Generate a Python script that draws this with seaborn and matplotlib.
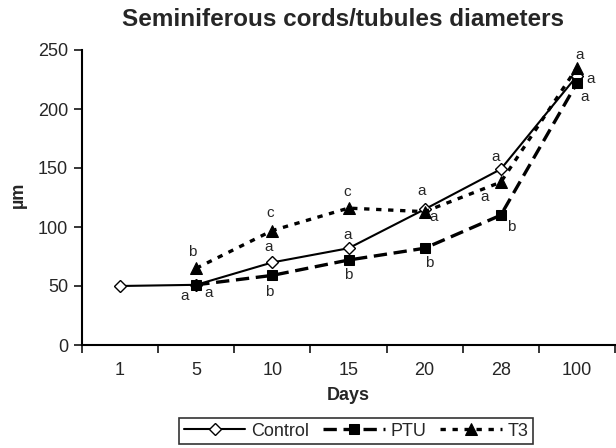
import numpy as np
import pandas as pd
import matplotlib
matplotlib.use("Agg")
import matplotlib.pyplot as plt
import seaborn as sns

# ---- data ----
days = ["1", "5", "10", "15", "20", "28", "100"]
control = [50, 51, 70, 82, 115, 149, 228]
ptu = [np.nan, 51, 59, 72, 82, 110, 222]
t3 = [np.nan, 65, 97, 116, 113, 138, 235]

control_letters = ["", "a", "a", "a", "a", "a", "a"]
ptu_letters = ["", "a", "b", "b", "b", "b", "a"]
t3_letters = ["", "b", "c", "c", "a", "a", "a"]

title = "Seminiferous cords/tubules diameters"
xlabel = "Days"
ylabel = "µm"
yticks = [0, 50, 100, 150, 200, 250]

# ---- style ----
sns.set_style("ticks")
plt.rcParams["font.family"] = ["Liberation Sans", "DejaVu Sans"]

fig = plt.figure(figsize=(6.16, 4.48), dpi=100)
ax = fig.add_axes([82 / 616, 1 - 345 / 448, 533 / 616, 295 / 448])

pos = np.arange(len(days))

def frame(vals):
    df = pd.DataFrame({"pos": pos, "val": vals})
    return df.dropna()

sns.lineplot(data=frame(control), x="pos", y="val", ax=ax, color="black",
             lw=1.5, marker="D", markersize=6, markerfacecolor="white",
             markeredgecolor="black", markeredgewidth=1.0, label="Control")
sns.lineplot(data=frame(ptu), x="pos", y="val", ax=ax, color="black",
             lw=2.4, linestyle=(0, (4.0, 2.0)), marker="s", markersize=6.5,
             markerfacecolor="black", markeredgecolor="black", label="PTU")
sns.lineplot(data=frame(t3), x="pos", y="val", ax=ax, color="black",
             lw=2.4, linestyle=(0, (1.6, 2.0)), marker="^", markersize=8,
             markerfacecolor="black", markeredgecolor="black", label="T3")

# significance letters
offsets = {
    "control": [(0, 0), (-12, -11), (-4, 15), (-1, 13), (-3, 18), (-5, 12), (14, -3)],
    "ptu": [(0, 0), (12, -8), (-3, -17), (0, -15), (5, -15), (10, -12), (8, -14)],
    "t3": [(0, 0), (-4, 16), (-2, 18), (-1, 16), (9, -5), (-16, -15), (3, 13)],
}
for key, vals, letters in [("control", control, control_letters),
                           ("ptu", ptu, ptu_letters),
                           ("t3", t3, t3_letters)]:
    for i, (v, lt) in enumerate(zip(vals, letters)):
        if lt and not np.isnan(v):
            ax.annotate(lt, (pos[i], v), xytext=offsets[key][i],
                        textcoords="offset pixels", ha="center", va="center",
                        fontsize=11)

# axes
ax.set_xlim(-0.5, len(days) - 0.5)
ax.set_ylim(0, 250)
ax.set_yticks(yticks)
ax.set_xticks(pos)
ax.set_xticklabels(days)
ax.set_xticks(np.arange(len(days) + 1) - 0.5, minor=True)
ax.tick_params(axis="x", which="major", length=0, pad=12, labelsize=13)
ax.tick_params(axis="x", which="minor", length=6, width=1.3, direction="out")
ax.tick_params(axis="y", length=6, width=1.3, direction="out", labelsize=13, pad=4)
for s in ["top", "right"]:
    ax.spines[s].set_visible(False)
for s in ["left", "bottom"]:
    ax.spines[s].set_linewidth(1.5)
    ax.spines[s].set_color("black")
ax.set_xlabel("")
ax.set_ylabel("")

fig.text(18 / 616, 1 - 195 / 448, ylabel, rotation=90, ha="center", va="center",
         fontsize=13, fontweight="bold")
fig.text(348 / 616, 1 - 395 / 448, xlabel, ha="center", va="center",
         fontsize=13, fontweight="bold")
fig.text(343 / 616, 1 - 19 / 448, title, ha="center", va="center",
         fontsize=17.5, fontweight="bold")

leg = ax.legend(loc="upper center", bbox_to_anchor=(356 / 616, 1 - 418 / 448),
                bbox_transform=fig.transFigure, ncol=3, frameon=True,
                fancybox=False, edgecolor="black", fontsize=13,
                handlelength=3.4, handletextpad=0.3, columnspacing=0.8,
                borderpad=0.25, borderaxespad=0)
leg.get_frame().set_linewidth(1.2)

fig.savefig("out.png", dpi=100)
